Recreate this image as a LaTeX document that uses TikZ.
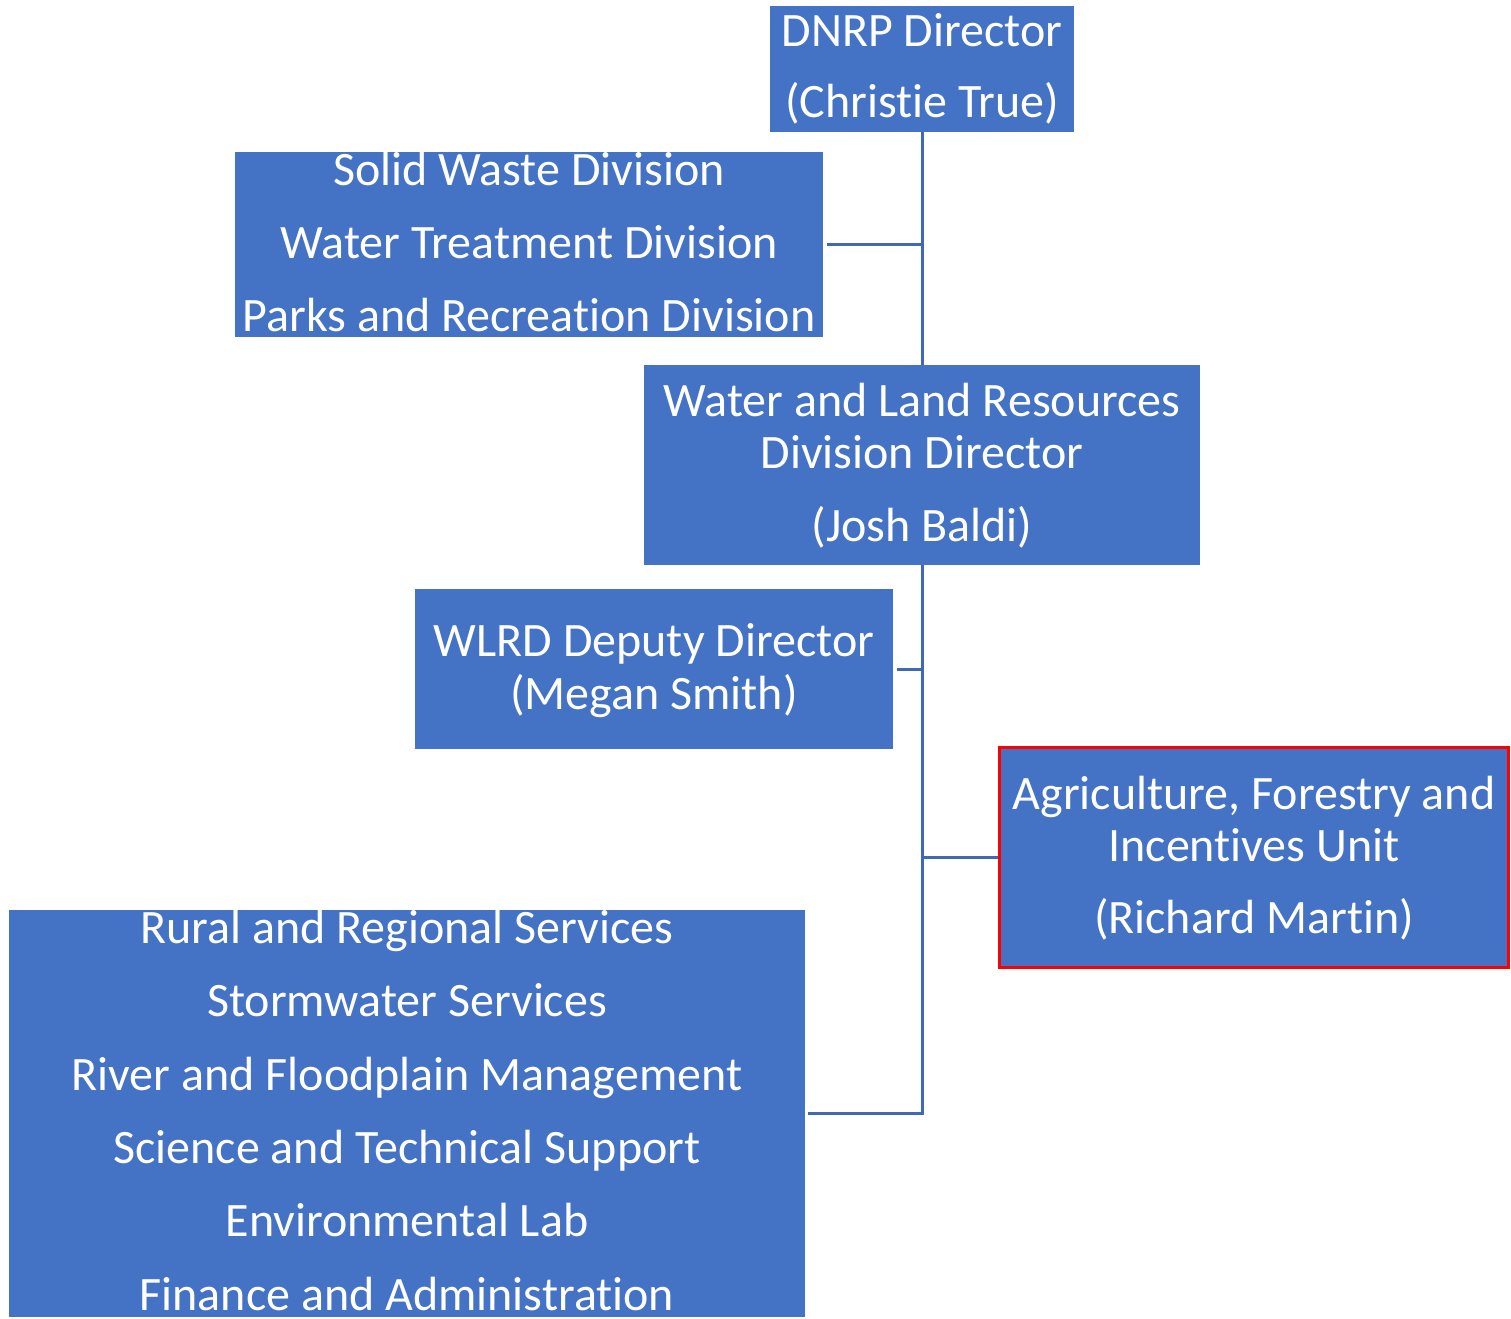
\documentclass[tikz,border=0pt]{standalone}
\usepackage{fontspec}
\setmainfont{Carlito}[Ligatures=NoCommon]
\definecolor{boxblue}{HTML}{4472C4}
\definecolor{linkblue}{HTML}{3F68B5}
\begin{document}
\begin{tikzpicture}[x=1pt,y=-1pt,
  box/.style={rectangle, fill=boxblue, draw=none, inner sep=0pt},
  redbox/.style={box, draw=red, line width=3pt},
  txt/.style={text=white, anchor=base, inner sep=0pt, font=\fontsize{48}{56}\selectfont},
  link/.style={draw=linkblue, line width=3pt}]
\useasboundingbox (0,0) rectangle (1511,1318);
% boxes
\node[box, minimum width=304pt, minimum height=126pt] (dnrp) at (922,69) {};
\node[box, minimum width=588pt, minimum height=185pt] (sw) at (529,244.5) {};
\node[box, minimum width=556pt, minimum height=200pt] (wlrd) at (922,465) {};
\node[box, minimum width=478pt, minimum height=160pt] (dep) at (654,669) {};
\node[redbox, minimum width=509pt, minimum height=220pt] (agri) at (1254,857.5) {};
\node[box, minimum width=796pt, minimum height=407pt] (rural) at (407,1113.5) {};
% texts
\node[txt] (t1a) at (922,46) {DNRP Director};
\node[txt] (t1b) at (922,117) {(Christie True)};
\node[txt] (t2a) at (529,185) {Solid Waste Division};
\node[txt] (t2b) at (529,258) {Water Treatment Division};
\node[txt] (t2c) at (529,331) {Parks and Recreation Division};
\node[txt] (t3a) at (922,416) {Water and Land Resources};
\node[txt] (t3b) at (922,468) {Division Director};
\node[txt] (t3c) at (922,541) {(Josh Baldi)};
\node[txt] (t4a) at (654,656) {WLRD Deputy Director};
\node[txt] (t4b) at (654,709) {(Megan Smith)};
\node[txt] (t5a) at (1254,809) {Agriculture, Forestry and};
\node[txt] (t5b) at (1254,861) {Incentives Unit};
\node[txt] (t5c) at (1254,933) {(Richard Martin)};
\node[txt] (t6a) at (407,943) {Rural and Regional Services};
\node[txt] (t6b) at (407,1016) {Stormwater Services};
\node[txt] (t6c) at (407,1090) {River and Floodplain Management};
\node[txt] (t6d) at (407,1163) {Science and Technical Support};
\node[txt] (t6e) at (407,1236) {Environmental Lab};
\node[txt] (t6f) at (407,1310) {Finance and Administration};
% connectors
\path[link] (dnrp.south) -- (wlrd.north);
\path[link] ([xshift=4pt]sw.east) -- (sw.east -| dnrp.south);
\path[link] (wlrd.south) -- (rural.east -| wlrd.south) -- ([xshift=3pt]rural.east);
\path[link] ([xshift=4pt]dep.east) -- (dep.east -| wlrd.south);
\path[link] (agri.west) -- (agri.west -| wlrd.south);
\end{tikzpicture}
\end{document}
